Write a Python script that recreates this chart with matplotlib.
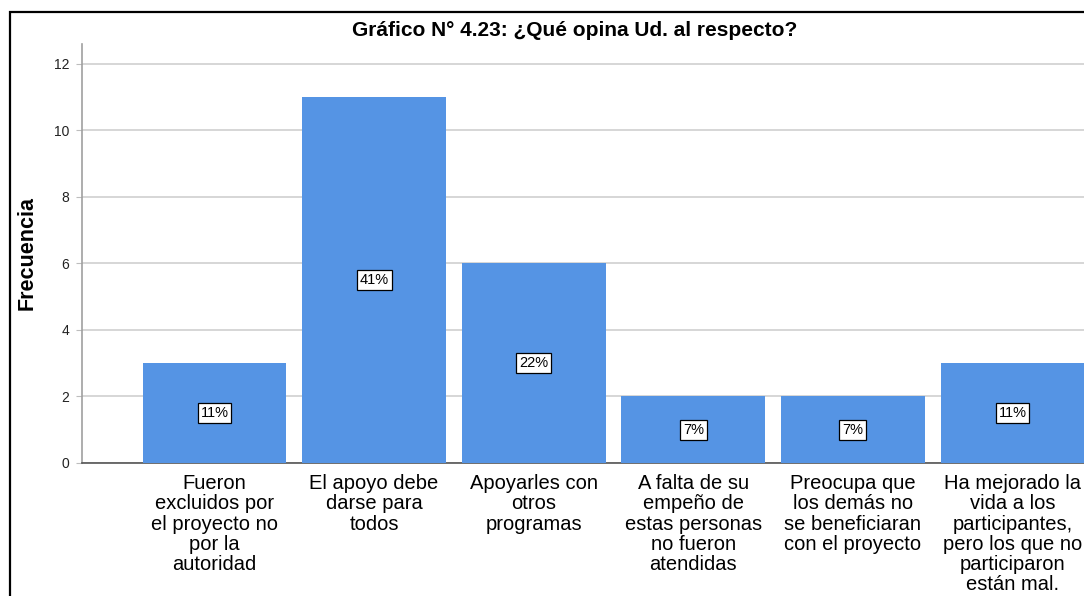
import matplotlib
matplotlib.use("Agg")
import matplotlib.pyplot as plt
from matplotlib.patches import Rectangle

plt.rcParams["font.family"] = ["Liberation Sans", "DejaVu Sans"]

# ── Data ─────────────────────────────────────────────
categories = [
    "Fueron\nexcluidos por\nel proyecto no\npor la\nautoridad",
    "El apoyo debe\ndarse para\ntodos",
    "Apoyarles con\notros\nprogramas",
    "A falta de su\nempeño de\nestas personas\nno fueron\natendidas",
    "Preocupa que\nlos demás no\nse beneficiaran\ncon el proyecto",
    "Ha mejorado la\nvida a los\nparticipantes,\npero los que no\nparticiparon\nestán mal.",
]
frequencies = [3, 11, 6, 2, 2, 3]
percent_labels = ["11%", "41%", "22%", "7%", "7%", "11%"]
yticks = [0, 2, 4, 6, 8, 10, 12]

BAR_COLOR = "#5594e4"

fig = plt.figure(figsize=(10.84, 5.96), dpi=100)

# outer frame (cropped at right / bottom)
fig.patches.append(Rectangle((10 / 1084, -0.1), 1.2, (596 - 12) / 596 + 0.1,
                             transform=fig.transFigure, fill=False,
                             edgecolor="black", linewidth=1.6))

ax = fig.add_axes([82 / 1084, (596 - 463) / 596, 1063 / 1084, 419 / 596])
x = list(range(len(categories)))
bars = ax.bar(x, frequencies, width=0.9, color=BAR_COLOR, zorder=3)

for i, (f, lab) in enumerate(zip(frequencies, percent_labels)):
    ax.text(i, f / 2, lab, ha="center", va="center", fontsize=10.5, zorder=4,
            bbox=dict(boxstyle="square,pad=0.2", facecolor="white",
                      edgecolor="black", linewidth=0.9))

ax.set_xlim(-0.83, len(categories) - 1 + 0.83)
ax.set_ylim(0, 12.6)
ax.set_yticks(yticks)
ax.set_xticks(x)
ax.set_xticklabels(categories, fontsize=14.5, linespacing=1.08, va="top")
ax.tick_params(axis="x", length=0, pad=8)
ax.tick_params(axis="y", length=4, color="#bdbdbd", labelsize=10, pad=5,
               labelcolor="#222222")
ax.yaxis.grid(True, color="#d0d0d0", linewidth=1.2, zorder=0)
ax.set_axisbelow(True)

for side in ["top", "right"]:
    ax.spines[side].set_visible(False)
ax.spines["left"].set_color("#a0a0a0")
ax.spines["left"].set_linewidth(1.2)
ax.spines["bottom"].set_color("#555555")
ax.spines["bottom"].set_linewidth(1.2)

ax.set_ylabel("Frecuencia", fontsize=15.5, fontweight="bold", labelpad=12)

fig.text(575 / 1084, 1 - 30 / 596, "Gráfico N° 4.23: ¿Qué opina Ud. al respecto?",
         ha="center", va="center", fontsize=15, fontweight="bold")

fig.savefig("out.png", dpi=100)
